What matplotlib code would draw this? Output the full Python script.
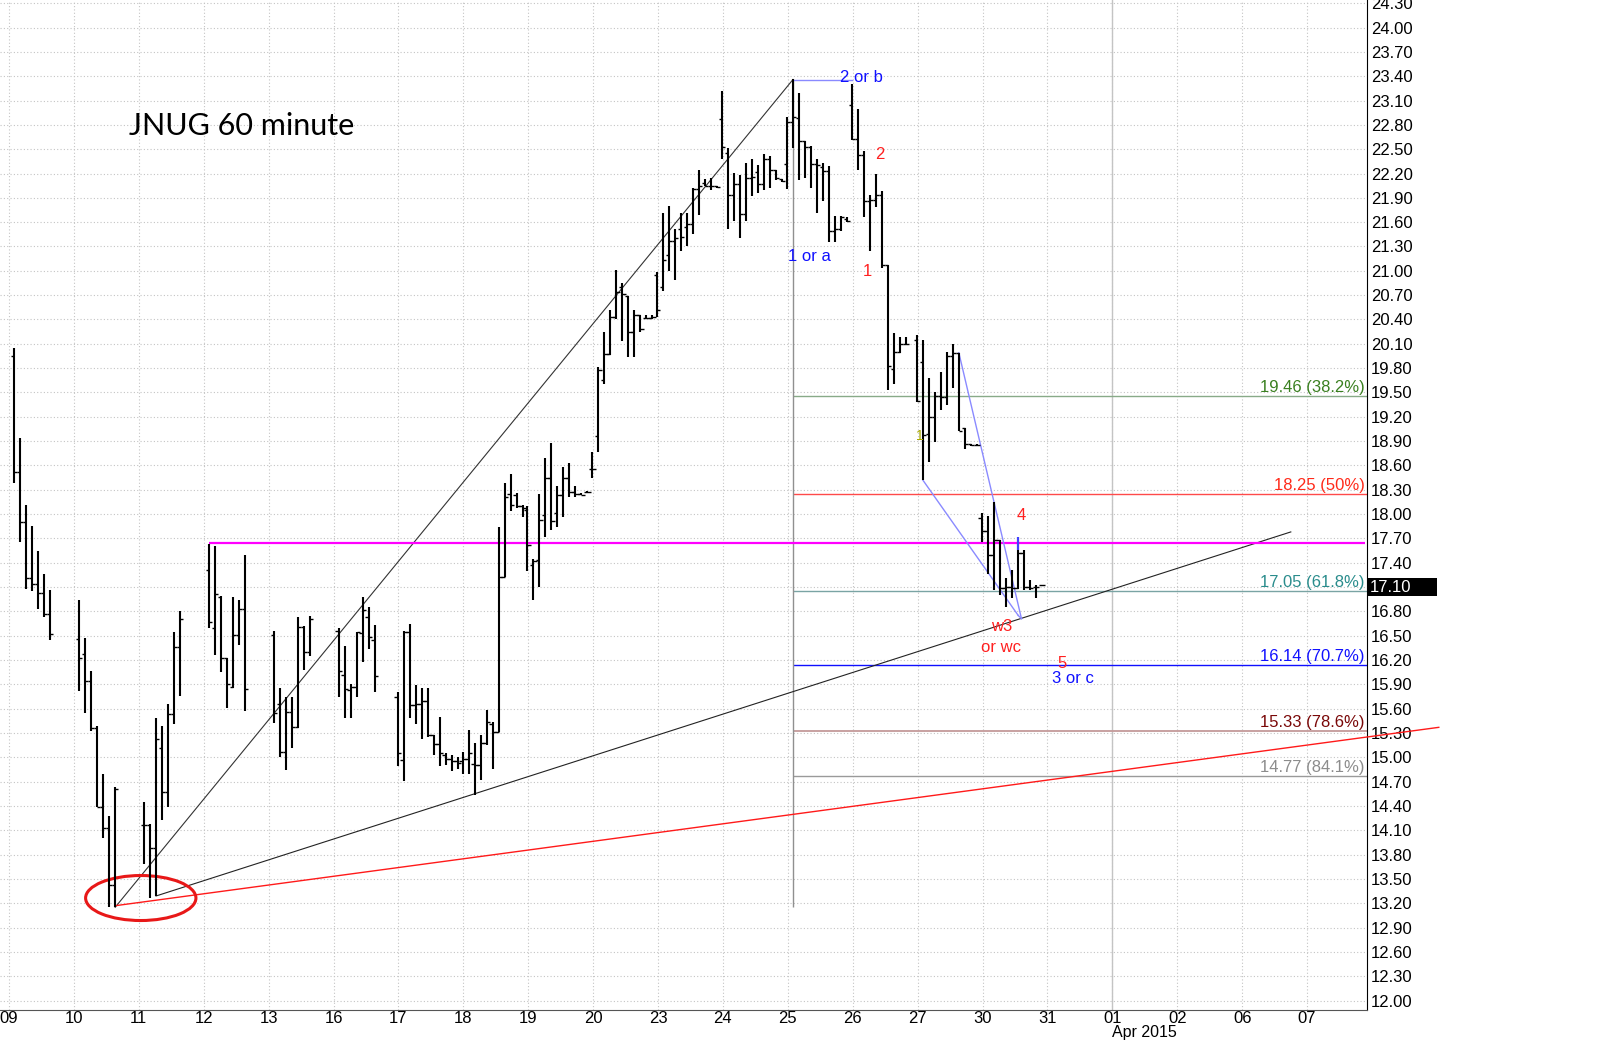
import numpy as np
from matplotlib import pyplot as plt
from matplotlib.patches import Ellipse, Rectangle
from matplotlib import transforms

plt.rcParams.update({"font.family": ["Liberation Sans", "DejaVu Sans"], "font.size": 12})

# trading days shown on the x axis (Mar/Apr 2015)
days = ["09", "10", "11", "12", "13", "16", "17", "18", "19", "20",
        "23", "24", "25", "26", "27", "30", "31", "01", "02", "06", "07"]
# hourly bars per trading day and hour of the first bar
bars_per_day = [7, 7, 7, 7, 7, 7, 11, 11, 11, 11, 11, 11, 11, 10, 11, 11]
first_hour = [9, 9, 9, 9, 9, 9, 8, 8, 8, 8, 8, 8, 8, 8, 8, 8]

opens = [
    19.95, 18.52, 17.90, 17.21, 17.14, 17.03, 16.77,  # 09
    16.46, 16.27, 15.94, 15.36, 14.39, 14.13, 13.43,  # 10
    14.16, 14.16, 13.88, 15.12, 14.57, 15.53, 16.36,  # 11
    17.31, 16.60, 16.98, 16.22, 15.87, 16.51, 16.83,  # 12
    16.51, 15.66, 15.06, 15.56, 15.38, 16.61, 16.30,  # 13
    16.56, 16.01, 15.83, 15.87, 16.53, 16.73, 16.45,  # 16
    15.75, 14.97, 16.55, 15.64, 15.66, 15.70, 15.27, 15.16, 15.03, 14.98, 14.95,  # 17
    14.95, 14.98, 14.92, 14.90, 15.18, 15.41, 15.31, 17.23, 18.25, 18.24, 18.10,  # 18
    18.05, 17.37, 17.43, 17.99, 18.44, 18.01, 18.23, 18.45, 18.27, 18.25, 18.27,  # 19
    18.56, 18.96, 19.65, 19.98, 20.43, 20.80, 20.69, 20.24, 20.45, 20.42, 20.42,  # 20
    20.95, 20.80, 21.19, 21.37, 21.52, 21.54, 21.58, 22.01, 22.08, 22.05, 22.04,  # 23
    22.87, 22.45, 21.94, 22.07, 21.70, 22.15, 22.22, 22.07, 22.38, 22.24, 22.13,  # 24
    22.32, 22.84, 22.89, 22.60, 22.53, 22.32, 22.28, 22.23, 21.49, 21.51, 21.64,  # 25
    23.04, 22.62, 22.43, 21.86, 21.87, 21.93, 21.07, 19.79, 20.00, 20.10,  # 26
    20.15, 19.88, 18.99, 19.20, 19.46, 19.44, 19.95, 19.99, 19.06, 18.86, 18.85,  # 27
    17.95, 17.79, 17.49, 17.68, 17.09, 17.10, 17.09, 17.52, 17.10, 17.10, 17.12,  # 30
]
highs = [
    20.05, 18.94, 18.11, 17.85, 17.54, 17.26, 17.06,
    16.94, 16.47, 16.06, 15.39, 14.80, 14.28, 14.63,
    14.45, 14.18, 15.48, 15.39, 15.66, 16.55, 16.80,
    17.63, 17.61, 16.99, 16.23, 16.98, 16.94, 17.50,
    16.56, 15.85, 15.75, 15.74, 16.73, 16.62, 16.74,
    16.60, 16.37, 15.91, 16.55, 16.98, 16.85, 16.63,
    15.81, 16.56, 16.65, 15.89, 15.85, 15.85, 15.27, 15.50, 15.05, 15.03, 15.01,
    15.07, 15.34, 15.18, 15.27, 15.58, 15.44, 17.84, 18.38, 18.50, 18.26, 18.11,
    18.10, 17.44, 18.25, 18.69, 18.88, 18.35, 18.58, 18.63, 18.35, 18.26, 18.28,
    18.76, 19.81, 20.25, 20.52, 21.01, 20.85, 20.69, 20.52, 20.45, 20.45, 20.45,
    20.98, 21.71, 21.80, 21.51, 21.71, 21.71, 22.02, 22.24, 22.13, 22.14, 22.04,
    23.22, 22.51, 22.21, 22.18, 22.33, 22.38, 22.31, 22.44, 22.42, 22.24, 22.13,
    22.90, 23.36, 23.19, 22.60, 22.54, 22.38, 22.33, 22.29, 21.67, 21.68, 21.66,
    23.31, 23.00, 22.48, 21.93, 22.19, 21.98, 21.07, 20.23, 20.19, 20.19,
    20.21, 20.15, 19.68, 19.50, 19.75, 20.00, 20.10, 19.99, 19.06, 18.87, 18.86,
    18.01, 17.98, 18.15, 17.68, 17.21, 17.31, 17.72, 17.56, 17.19, 17.13, 17.12,
]
lows = [
    18.38, 17.66, 17.08, 17.05, 16.83, 16.73, 16.45,
    15.82, 15.55, 15.32, 14.39, 14.00, 13.16, 13.15,
    13.68, 13.27, 13.29, 14.23, 14.39, 15.41, 15.76,
    16.60, 16.26, 16.05, 15.61, 15.85, 16.39, 15.57,
    15.42, 15.00, 14.84, 15.12, 15.36, 16.08, 16.25,
    15.75, 15.49, 15.49, 15.75, 16.18, 16.34, 15.81,
    14.89, 14.71, 15.48, 15.41, 15.23, 15.25, 15.03, 14.89, 14.90, 14.83, 14.86,
    14.79, 14.80, 14.53, 14.72, 15.15, 14.86, 15.31, 17.22, 18.04, 18.08, 17.96,
    17.30, 16.94, 17.10, 17.72, 17.80, 17.84, 17.97, 18.21, 18.21, 18.23, 18.26,
    18.44, 18.77, 19.61, 19.96, 20.41, 20.13, 19.94, 19.94, 20.25, 20.40, 20.40,
    20.43, 20.75, 21.00, 20.89, 21.24, 21.31, 21.45, 21.69, 22.05, 22.00, 22.02,
    22.38, 21.52, 21.62, 21.40, 21.61, 21.92, 21.96, 22.00, 22.02, 22.12, 22.10,
    22.01, 22.52, 22.12, 22.15, 22.02, 21.71, 21.86, 21.35, 21.36, 21.49, 21.60,
    22.61, 22.24, 21.66, 21.24, 21.79, 21.04, 19.53, 19.61, 19.99, 20.08,
    19.38, 18.42, 18.64, 18.89, 19.28, 19.34, 19.55, 19.02, 18.80, 18.84, 18.84,
    17.66, 17.26, 17.06, 17.00, 16.85, 16.97, 17.08, 17.06, 17.06, 16.97, 17.11,
]
closes = [
    18.52, 17.90, 17.21, 17.14, 17.03, 16.77, 16.52,
    16.23, 15.94, 15.36, 14.39, 14.13, 13.43, 14.61,
    14.16, 13.88, 15.23, 14.57, 15.53, 16.36, 16.71,
    16.67, 17.02, 16.22, 15.91, 16.51, 16.83, 15.84,
    15.55, 15.06, 15.56, 15.38, 16.61, 16.30, 16.71,
    16.06, 15.84, 15.87, 16.54, 16.82, 16.49, 16.00,
    15.05, 16.55, 15.64, 15.66, 15.70, 15.28, 15.16, 15.05, 14.98, 14.95, 14.93,
    14.98, 15.05, 14.90, 15.18, 15.43, 15.31, 17.23, 18.21, 18.11, 18.10, 18.08,
    17.62, 17.42, 17.93, 18.45, 17.92, 18.23, 18.45, 18.27, 18.25, 18.24, 18.27,
    18.56, 19.78, 19.98, 20.43, 20.74, 20.72, 20.24, 20.45, 20.28, 20.42, 20.43,
    20.52, 21.13, 21.37, 21.40, 21.42, 21.58, 22.01, 22.05, 22.05, 22.05, 22.03,
    22.53, 21.94, 22.07, 21.70, 22.15, 22.16, 22.07, 22.38, 22.24, 22.14, 22.11,
    22.84, 22.90, 22.60, 22.53, 22.32, 22.30, 22.23, 21.49, 21.51, 21.66, 21.62,
    22.62, 22.43, 21.86, 21.87, 21.93, 21.07, 19.83, 20.00, 20.10, 20.10,
    19.40, 18.97, 19.20, 19.46, 19.44, 19.95, 19.99, 19.02, 18.86, 18.85, 18.85,
    17.79, 17.49, 17.68, 17.09, 17.10, 17.09, 17.52, 17.10, 17.09, 17.10, 17.12,
]

# fibonacci retracement of the 13.15 -> 23.36 swing
fib_prices = [19.46, 18.25, 17.05, 16.14, 15.33, 14.77]
fib_pcts = ["38.2%", "50%", "61.8%", "70.7%", "78.6%", "84.1%"]
fib_text_colors = ["#3a8020", "#ff2a1a", "#2a8c8c", "#1010ff", "#7a0808", "#8c8c8c"]
fib_line_colors = ["#88aa88", "#ff4a4a", "#7aa4a4", "#1010ff", "#c49a9a", "#9a9a9a"]
swing_low = 13.15
swing_high = 23.36
last_price = 17.10


def bar_x(day_idx, hour):
    # position in day units: day gridline at integer, 9:30 bar just after it
    return day_idx + 0.08 + 0.0925 * (hour - 9)


xs = []
for d, (n, h0) in enumerate(zip(bars_per_day, first_hour)):
    for j in range(n):
        xs.append(bar_x(d, h0 + j))
xs = np.array(xs)
assert len(xs) == len(opens) == len(highs) == len(lows) == len(closes)

fig = plt.figure(figsize=(16, 10.41), dpi=100)
ax = fig.add_axes([0, 1 - 1010 / 1041, 1367 / 1600, 1010 / 1041])
ax.set_xlim(-0.139, 20.924)
ax.set_ylim(11.884, 24.34)

# grid and axes
ax.set_axisbelow(True)
ax.grid(True, color="#c4c4c4", linestyle=(0, (1, 2)), linewidth=0.8)
for s in ["left", "top"]:
    ax.spines[s].set_visible(False)
ax.spines["right"].set_color("black")
ax.spines["bottom"].set_color("#555555")
ax.yaxis.tick_right()
ax.set_yticks(np.round(np.arange(12.0, 24.31, 0.3), 2))
ax.yaxis.set_major_formatter(plt.FormatStrFormatter("%.2f"))
ax.set_xticks(range(len(days)))
ax.set_xticklabels(days)
ax.tick_params(axis="both", length=0, labelsize=12, colors="black")
ax.tick_params(axis="y", pad=3)
ax.tick_params(axis="x", pad=1)
ax.axvline(17, color="#c4c4c4", lw=1, zorder=1)
ax.text(17, -0.0265, "Apr 2015", transform=transforms.blended_transform_factory(ax.transData, ax.transAxes),
        ha="left", va="baseline", fontsize=11.5, clip_on=False)

# fib levels
fx0 = bar_x(12, 9)
for p, pct, tc, lc in zip(fib_prices, fib_pcts, fib_text_colors, fib_line_colors):
    ax.hlines(p, fx0, 20.924, color=lc, lw=1.3 if pct == "78.6%" else 1, zorder=2)
    ax.annotate(f"{p:.2f} ({pct})", xy=(20.89, p), xytext=(0, 0.5), textcoords="offset points",
                ha="right", va="bottom", color=tc, fontsize=12)
ax.vlines(fx0, swing_low, swing_high, color="#909090", lw=1, zorder=2)

# trend lines
ax.plot([bar_x(1, 15), fx0], [13.15, 23.36], color="#333333", lw=0.8, zorder=3)
ax.plot([bar_x(2, 11), 19.75], [13.29, 17.78], color="#222222", lw=0.8, zorder=3)
ax.plot([bar_x(1, 15), 22.03], [13.17, 15.37], color="#ff1a1a", lw=1, zorder=3, clip_on=False)
ax.hlines(17.64, bar_x(3, 9), 20.9, color="#ff00ff", lw=1.6, zorder=3)
ax.add_patch(Ellipse((2.03, 13.265), 1.70, 0.555, fill=False, edgecolor="#e81818", lw=2.2, zorder=4))

# wave drawing lines
wave_blue = "#8a8aff"
ax.plot([fx0, bar_x(13, 8)], [23.35, 23.35], color=wave_blue, lw=1, zorder=3)
ax.plot([bar_x(14, 9), 15.55], [18.42, 16.75], color=wave_blue, lw=1, zorder=3)
ax.plot([bar_x(14, 15), 15.60], [19.99, 16.71], color=wave_blue, lw=1, zorder=3)
ax.plot([15.55, 15.60], [16.75, 16.71], color=wave_blue, lw=1, zorder=3)

# OHLC bars
ax.vlines(xs, lows, highs, color="black", lw=1.5, zorder=5)
ax.hlines(opens, xs - 0.05, xs, color="black", lw=1, zorder=5)
ax.hlines(closes, xs, xs + 0.05, color="black", lw=1, zorder=5)
ax.vlines(bar_x(15, 14), 17.56, 17.72, color="#4040ff", lw=1.5, zorder=6)

# wave labels
red = "#ff2020"
blue = "#1010ff"
labels = [
    ("2 or b", 13.14, 23.39, blue, 12),
    ("1 or a", 12.33, 21.18, blue, 12),
    ("2", 13.41, 22.43, red, 12),
    ("1", 13.22, 20.99, red, 12),
    ("1", 14.04, 18.96, "#a8a800", 10),
    ("4", 15.59, 17.98, red, 12),
    ("w3", 15.30, 16.61, red, 12),
    ("or wc", 15.29, 16.36, red, 12),
    ("5", 16.22, 16.16, red, 12),
    ("3 or c", 16.40, 15.97, blue, 12),
]
for txt, x, y, c, fs in labels:
    ax.text(x, y, txt, color=c, fontsize=fs, ha="center", va="center", zorder=7)

ax.text(1.853, 22.79, "JNUG 60 minute", fontsize=22, family=["Lato", "DejaVu Sans"],
        ha="left", va="center", color="black")

# last price marker on the axis
tr = transforms.blended_transform_factory(ax.transAxes, ax.transData)
ax.add_patch(Rectangle((1.0, last_price - 0.11), 70 / 1367, 0.22, transform=tr,
                       facecolor="black", edgecolor="none", clip_on=False, zorder=8))
ax.text(1.0 + 3 / 1367, last_price, f"{last_price:.2f}", transform=tr, color="white",
        fontsize=12, ha="left", va="center", clip_on=False, zorder=9)

fig.savefig("out.png", dpi=100)
